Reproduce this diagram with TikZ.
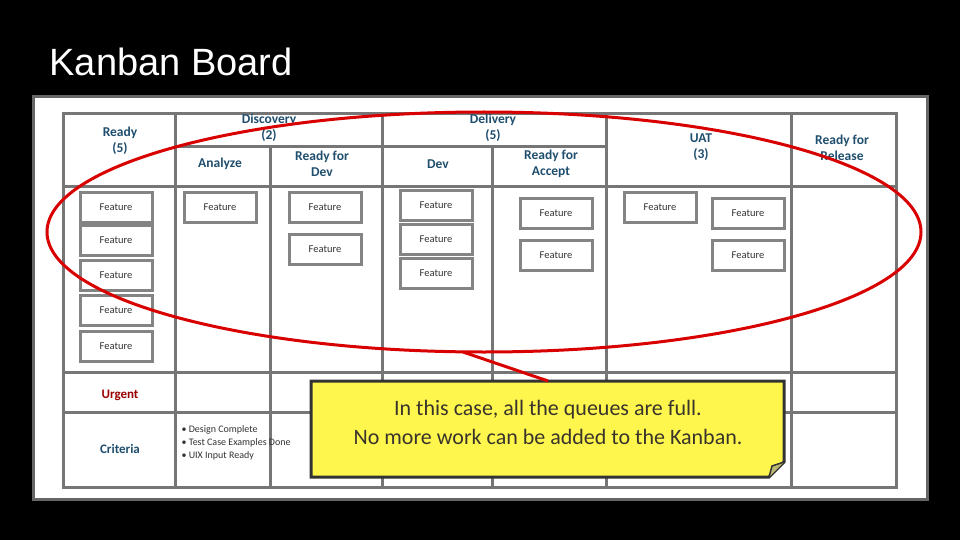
\documentclass[tikz,border=0pt]{standalone}
\usepackage{fontspec}
\setmainfont{Carlito}
\newfontfamily\arialf{Liberation Sans}
\definecolor{hdrc}{HTML}{1F4E6E}
\definecolor{gridc}{HTML}{767676}
\begin{document}
\begin{tikzpicture}[x=1pt,y=-1pt,
  card/.style={draw=gridc!90,line width=3pt,fill=white,minimum width=72pt,minimum height=30pt,inner sep=0pt,font=\fontsize{10.5}{11}\selectfont,text=black!80},
  hdr/.style={font=\bfseries\fontsize{13.5}{16}\selectfont,text=hdrc,align=center}]
\useasboundingbox (0,0) rectangle (960,540);
\fill[black] (0,0) rectangle (960,540);
\node[anchor=west,text=white,font=\arialf\fontsize{38}{40}\selectfont] (title) at (46,62) {Kanban Board};
\fill[white] (33,97) rectangle (927,499);
\draw[gray!80!black,line width=3pt] (33,97) rectangle (927,499);
% grid
\begin{scope}[draw=gridc,line width=3pt]
\draw (63,114) rectangle (896,487);
\foreach \x in {175,382,606,791} \draw (\x,114) -- (\x,487);
\draw (270,147) -- (270,487);
\draw (492,147) -- (492,487);
\draw (175,147) -- (606,147);
\draw (63,186) -- (896,186);
\draw (63,372) -- (896,372);
\draw (63,412) -- (896,412);
\end{scope}
% headers
\node[hdr] (h1) at (120,141) {Ready\\(5)};
\node[hdr] (h2) at (269,128) {Discovery\\(2)};
\node[hdr] (h3) at (493,128) {Delivery\\(5)};
\node[hdr] (h4) at (220,164) {Analyze};
\node[hdr] (h5) at (322,164) {Ready for\\Dev};
\node[hdr] (h6) at (438,164) {Dev};
\node[hdr] (h7) at (551,164) {Ready for\\Accept};
\node[hdr] (h8) at (701,147) {UAT\\(3)};
\node[hdr] (h9) at (842,148) {Ready for\\Release};
% cards
\foreach \n/\x/\y in {r1/116/207,r2/116/240,r3/116/275,r4/116/310,r5/116/346,
  a1/220/207,d1/325/207,d2/325/249,v1/436/205,v2/436/239,v3/436/273,
  f1/556/213,f2/556/255,u1/660/207,u2/748/213,u3/748/255}
  \node[card] (\n) at (\x,\y) {Feature};
% criteria
\node[font=\bfseries\fontsize{13}{15}\selectfont,text=red!60!black] (urg) at (120,395) {Urgent};
\node[font=\bfseries\fontsize{13}{15}\selectfont,text=hdrc] (crit) at (120,449) {Criteria};
\node[anchor=west,align=left,font=\fontsize{10}{13}\selectfont,text=black!80] (bul) at (178,443) {\textbullet\ Design Complete\\\textbullet\ Test Case Examples Done\\\textbullet\ UIX Input Ready};
% ellipse and pointer
\draw[red!85!black,line width=3pt] (484,232) ellipse [x radius=437,y radius=120];
\coordinate (ep) at (463,352);
% callout
\draw[gray!40!black,line width=3pt,fill=yellow!70] (311,381) -- (784,381) -- (784,462) -- (769,477) -- (311,477) -- cycle;
\draw[gray!40!black,line width=1.5pt,fill=yellow!40!gray] (769,477) -- (772,466) -- (784,462);
\node[align=center,font=\fontsize{22}{29}\selectfont,text=black!80!olive] (call) at (548,422) {In this case, all the queues are full.\\No more work can be added to the Kanban.};
\coordinate (cp) at (548,381);
\draw[red!85!black,line width=3pt] (ep) -- (cp);
\end{tikzpicture}
\end{document}
